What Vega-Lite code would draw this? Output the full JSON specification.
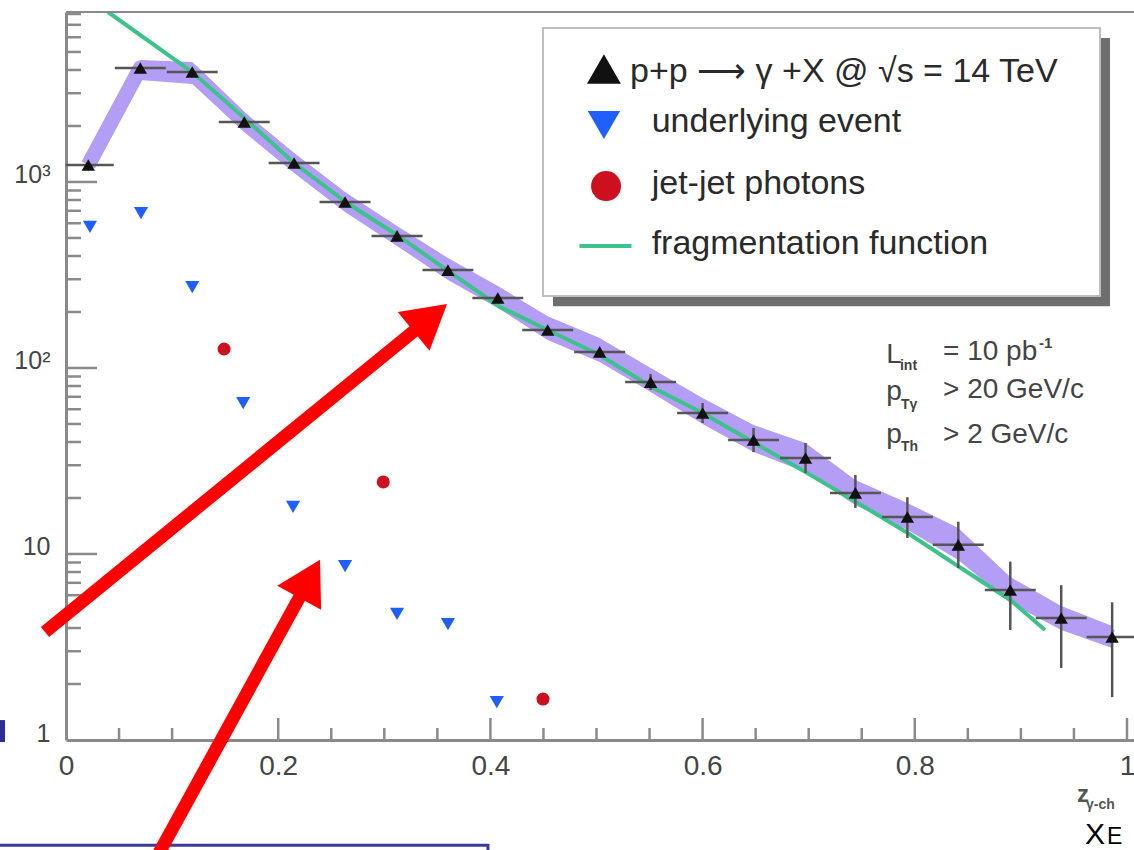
{
"$schema": "https://vega.github.io/schema/vega-lite/v6.json",
"width": 1068, "height": 728,
"autosize": "none",
"padding": {"left": 66, "top": 12, "right": 0, "bottom": 110},
"background": "white",
"view": {"stroke": null},
"config": {"font": "Liberation Sans"},
"data": {"values": [{}]},
"resolve": {"axis": {"x": "independent", "y": "independent"}},
"datasets": {
"pp": [
{"x":0.021,"y":1234,"blo":1132,"bhi":1346,"xlo":0.0,"xhi":0.045},
{"x":0.070,"y":4100,"blo":3535,"bhi":4529,"xlo":0.046,"xhi":0.094},
{"x":0.119,"y":3900,"blo":3365,"bhi":4418,"xlo":0.095,"xhi":0.143},
{"x":0.168,"y":2100,"blo":1857,"bhi":2379,"xlo":0.144,"xhi":0.192},
{"x":0.215,"y":1265,"blo":1117,"bhi":1432,"xlo":0.191,"xhi":0.239},
{"x":0.263,"y":780,"blo":690,"bhi":884,"xlo":0.239,"xhi":0.287},
{"x":0.312,"y":513,"blo":453,"bhi":580,"xlo":0.288,"xhi":0.336},
{"x":0.360,"y":336,"blo":297,"bhi":390,"xlo":0.336,"xhi":0.384},
{"x":0.407,"y":238,"blo":210,"bhi":276,"xlo":0.383,"xhi":0.431},
{"x":0.454,"y":160,"blo":141.5,"bhi":190,"xlo":0.430,"xhi":0.478},
{"x":0.503,"y":122,"blo":107.7,"bhi":145,"xlo":0.479,"xhi":0.527},
{"x":0.551,"y":84,"blo":74.3,"bhi":100,"lo":76.2,"hi":92.9,"xlo":0.527,"xhi":0.575},
{"x":0.600,"y":57.3,"blo":50,"bhi":69,"lo":50.6,"hi":64.8,"xlo":0.576,"xhi":0.624},
{"x":0.648,"y":41,"blo":35.3,"bhi":49.4,"lo":35.3,"hi":47.6,"xlo":0.624,"xhi":0.672},
{"x":0.697,"y":32.8,"blo":27.6,"bhi":39.5,"lo":27.3,"hi":39.5,"xlo":0.673,"xhi":0.721},
{"x":0.744,"y":21.3,"blo":18.3,"bhi":25,"lo":17.7,"hi":26.6,"xlo":0.720,"xhi":0.768},
{"x":0.793,"y":15.8,"blo":13.5,"bhi":18.8,"lo":12.2,"hi":20.2,"xlo":0.769,"xhi":0.817},
{"x":0.841,"y":11.2,"blo":9.29,"bhi":13.8,"lo":8.4,"hi":14.9,"xlo":0.817,"xhi":0.865},
{"x":0.890,"y":6.4,"blo":5.45,"bhi":7.52,"lo":3.9,"hi":9.1,"xlo":0.866,"xhi":0.914},
{"x":0.938,"y":4.53,"blo":3.9,"bhi":5.25,"lo":2.44,"hi":6.8,"xlo":0.914,"xhi":0.962},
{"x":0.986,"y":3.58,"blo":3.12,"bhi":4.1,"lo":1.7,"hi":5.5,"xlo":0.962,"xhi":1.01}
],
"ue": [
{"x":0.0226,"y":573},{"x":0.0707,"y":681},{"x":0.119,"y":272},{"x":0.167,"y":64.8},{"x":0.214,"y":17.9},{"x":0.263,"y":8.6},{"x":0.312,"y":4.76},{"x":0.360,"y":4.2},{"x":0.406,"y":1.6}
],
"jj": [
{"x":0.149,"y":126.5},{"x":0.299,"y":24.4},{"x":0.4496,"y":1.66}
],
"ff": [
{"x":0.0396,"y":8200},{"x":0.119,"y":3900},{"x":0.168,"y":2208},{"x":0.215,"y":1265},{"x":0.265,"y":771},{"x":0.312,"y":519},{"x":0.359,"y":336},{"x":0.409,"y":213},{"x":0.456,"y":158},{"x":0.503,"y":117.5},{"x":0.552,"y":79},{"x":0.600,"y":57.3},{"x":0.649,"y":39.5},{"x":0.697,"y":27.6},{"x":0.745,"y":19.0},{"x":0.793,"y":13.0},{"x":0.842,"y":8.51},{"x":0.890,"y":5.66},{"x":0.9227,"y":3.9}
],
"yminor": [{"v":2},{"v":3},{"v":4},{"v":5},{"v":6},{"v":7},{"v":8},{"v":9},{"v":20},{"v":30},{"v":40},{"v":50},{"v":60},{"v":70},{"v":80},{"v":90},{"v":200},{"v":300},{"v":400},{"v":500},{"v":600},{"v":700},{"v":800},{"v":900},{"v":2000},{"v":3000},{"v":4000},{"v":5000},{"v":6000},{"v":7000},{"v":8000}],
"ymajor": [{"v":10},{"v":100},{"v":1000}],
"xminor": [{"v":0.05},{"v":0.1},{"v":0.15},{"v":0.25},{"v":0.3},{"v":0.35},{"v":0.45},{"v":0.5},{"v":0.55},{"v":0.65},{"v":0.7},{"v":0.75},{"v":0.85},{"v":0.9},{"v":0.95}],
"xmajor": [{"v":0.2},{"v":0.4},{"v":0.6},{"v":0.8},{"v":1.0}]
},
"layer": [
{"data": {"name": "pp"},
 "mark": {"type": "area", "color": "#b49df4", "opacity": 1},
 "encoding": {
  "x": {"field": "x", "type": "quantitative", "scale": {"domain": [0, 1.0066], "nice": false, "zero": false},
        "axis": {"values": [0,0.2,0.4,0.6,0.8,1], "labelExpr": "datum.value==0?'0':datum.value==1?'1':format(datum.value,'.1f')", "ticks": false, "grid": false, "domainColor": "#8a8a8a", "domainWidth": 3, "labelFontSize": 28, "labelColor": "#454545", "labelPadding": 12, "labelFlush": false, "title": null}},
  "y": {"field": "blo", "type": "quantitative", "scale": {"type": "log", "domain": [1, 8200], "nice": false},
        "axis": {"values": [1,10,100,1000], "labelExpr": "datum.value==1?'1':datum.value==10?'10':datum.value==100?'10²':'10³'", "ticks": false, "grid": false, "domainColor": "#8a8a8a", "domainWidth": 3, "labelFontSize": 25, "labelColor": "#454545", "labelPadding": 16, "labelOffset": -7, "title": null}},
  "y2": {"field": "bhi"}
 }},
{"data": {"name": "pp"},
 "mark": {"type": "line", "color": "#b49df4", "strokeWidth": 15, "strokeJoin": "round"},
 "encoding": {"x": {"field": "x", "type": "quantitative", "axis": null}, "y": {"field": "y", "type": "quantitative", "scale": {"type": "log"}, "axis": null}}},
{"data": {"name": "ff"},
 "mark": {"type": "line", "color": "#3ec28c", "strokeWidth": 4, "clip": true},
 "encoding": {"x": {"field": "x", "type": "quantitative", "axis": null}, "y": {"field": "y", "type": "quantitative", "scale": {"type": "log"}, "axis": null}}},
{"data": {"name": "pp"},
 "mark": {"type": "rule", "color": "#555555", "strokeWidth": 2.5, "clip": true},
 "encoding": {"x": {"field": "xlo", "type": "quantitative", "axis": null}, "x2": {"field": "xhi"}, "y": {"field": "y", "type": "quantitative", "scale": {"type": "log"}, "axis": null}}},
{"data": {"name": "pp"},
 "transform": [{"filter": "isValid(datum.lo)"}],
 "mark": {"type": "rule", "color": "#555555", "strokeWidth": 2.5},
 "encoding": {"x": {"field": "x", "type": "quantitative", "axis": null}, "y": {"field": "lo", "type": "quantitative", "scale": {"type": "log"}, "axis": null}, "y2": {"field": "hi"}}},
{"data": {"name": "pp"},
 "mark": {"type": "point", "shape": "triangle-up", "filled": true, "size": 180, "color": "#111111", "opacity": 1},
 "encoding": {"x": {"field": "x", "type": "quantitative", "axis": null}, "y": {"field": "y", "type": "quantitative", "scale": {"type": "log"}, "axis": null}}},
{"data": {"name": "ue"},
 "mark": {"type": "point", "shape": "triangle-down", "filled": true, "size": 200, "color": "#1f5fff", "opacity": 1},
 "encoding": {"x": {"field": "x", "type": "quantitative", "axis": null}, "y": {"field": "y", "type": "quantitative", "scale": {"type": "log"}, "axis": null}}},
{"data": {"name": "jj"},
 "mark": {"type": "point", "shape": "circle", "filled": true, "size": 170, "color": "#cc1020", "opacity": 1},
 "encoding": {"x": {"field": "x", "type": "quantitative", "axis": null}, "y": {"field": "y", "type": "quantitative", "scale": {"type": "log"}, "axis": null}}},
{"data": {"name": "yminor"},
 "mark": {"type": "rule", "color": "#8a8a8a", "strokeWidth": 2.5},
 "encoding": {"x": {"datum": 0, "type": "quantitative", "axis": null}, "x2": {"datum": 0.0141}, "y": {"field": "v", "type": "quantitative", "scale": {"type": "log"}, "axis": null}}},
{"data": {"name": "ymajor"},
 "mark": {"type": "rule", "color": "#8a8a8a", "strokeWidth": 2.5},
 "encoding": {"x": {"datum": 0, "type": "quantitative", "axis": null}, "x2": {"datum": 0.0292}, "y": {"field": "v", "type": "quantitative", "scale": {"type": "log"}, "axis": null}}},
{"data": {"name": "xminor"},
 "mark": {"type": "rule", "color": "#8a8a8a", "strokeWidth": 2.5},
 "encoding": {"x": {"field": "v", "type": "quantitative", "axis": null}, "y": {"datum": 1, "type": "quantitative", "scale": {"type": "log"}, "axis": null}, "y2": {"datum": 1.16}}},
{"data": {"name": "xmajor"},
 "mark": {"type": "rule", "color": "#8a8a8a", "strokeWidth": 2.5},
 "encoding": {"x": {"field": "v", "type": "quantitative", "axis": null}, "y": {"datum": 1, "type": "quantitative", "scale": {"type": "log"}, "axis": null}, "y2": {"datum": 1.313}}},
{"mark": {"type": "rule", "color": "#8a8a8a", "strokeWidth": 2},
 "encoding": {"x": {"datum": 0, "type": "quantitative", "axis": null}, "x2": {"datum": 1.0066}, "y": {"datum": 8200, "type": "quantitative", "scale": {"type": "log"}, "axis": null}}},
{"mark": {"type": "rect", "color": "#6e6e6e"},
 "encoding": {"x": {"datum": 0.459, "type": "quantitative", "axis": null}, "x2": {"datum": 0.984}, "y": {"datum": 5945, "type": "quantitative", "scale": {"type": "log"}, "axis": null}, "y2": {"datum": 215}}},
{"mark": {"type": "rect", "fill": "white", "stroke": "#bdbdbd", "strokeWidth": 2},
 "encoding": {"x": {"datum": 0.4496, "type": "quantitative", "axis": null}, "x2": {"datum": 0.9746}, "y": {"datum": 6730, "type": "quantitative", "scale": {"type": "log"}, "axis": null}, "y2": {"datum": 244}}},
{"mark": {"type": "point", "shape": "triangle-up", "filled": true, "size": 1150, "color": "#111111", "opacity": 1},
 "encoding": {"x": {"datum": 0.507, "type": "quantitative", "axis": null}, "y": {"datum": 4050, "type": "quantitative", "scale": {"type": "log"}, "axis": null}}},
{"mark": {"type": "text", "text": "p+p ⟶ γ +X @ √s = 14 TeV", "align": "left", "baseline": "middle", "fontSize": 34, "color": "#2a2a2a"},
 "encoding": {"x": {"datum": 0.5316, "type": "quantitative", "axis": null}, "y": {"datum": 3904, "type": "quantitative", "scale": {"type": "log"}, "axis": null}}},
{"mark": {"type": "point", "shape": "triangle-down", "filled": true, "size": 1050, "color": "#1f5fff", "opacity": 1},
 "encoding": {"x": {"datum": 0.507, "type": "quantitative", "axis": null}, "y": {"datum": 2025, "type": "quantitative", "scale": {"type": "log"}, "axis": null}}},
{"mark": {"type": "text", "text": "underlying event", "align": "left", "baseline": "middle", "fontSize": 34, "color": "#2a2a2a"},
 "encoding": {"x": {"datum": 0.552, "type": "quantitative", "axis": null}, "y": {"datum": 2103, "type": "quantitative", "scale": {"type": "log"}, "axis": null}}},
{"mark": {"type": "point", "shape": "circle", "filled": true, "size": 900, "color": "#cc1020", "opacity": 1},
 "encoding": {"x": {"datum": 0.509, "type": "quantitative", "axis": null}, "y": {"datum": 951, "type": "quantitative", "scale": {"type": "log"}, "axis": null}}},
{"mark": {"type": "text", "text": "jet-jet photons", "align": "left", "baseline": "middle", "fontSize": 34, "color": "#2a2a2a"},
 "encoding": {"x": {"datum": 0.552, "type": "quantitative", "axis": null}, "y": {"datum": 975, "type": "quantitative", "scale": {"type": "log"}, "axis": null}}},
{"mark": {"type": "rule", "color": "#3ec28c", "strokeWidth": 4},
 "encoding": {"x": {"datum": 0.484, "type": "quantitative", "axis": null}, "x2": {"datum": 0.533}, "y": {"datum": 453, "type": "quantitative", "scale": {"type": "log"}, "axis": null}}},
{"mark": {"type": "text", "text": "fragmentation function", "align": "left", "baseline": "middle", "fontSize": 34, "color": "#2a2a2a"},
 "encoding": {"x": {"datum": 0.552, "type": "quantitative", "axis": null}, "y": {"datum": 464, "type": "quantitative", "scale": {"type": "log"}, "axis": null}}},
{"mark": {"type": "text", "text": "L", "align": "left", "baseline": "middle", "fontSize": 28, "color": "#444444"},
 "encoding": {"x": {"datum": 0.773, "type": "quantitative", "axis": null}, "y": {"datum": 117.5, "type": "quantitative", "scale": {"type": "log"}, "axis": null}}},
{"mark": {"type": "text", "text": "int", "align": "left", "baseline": "middle", "fontSize": 14, "fontWeight": "bold", "color": "#444444"},
 "encoding": {"x": {"datum": 0.786, "type": "quantitative", "axis": null}, "y": {"datum": 102.5, "type": "quantitative", "scale": {"type": "log"}, "axis": null}}},
{"mark": {"type": "text", "text": "= 10 pb", "align": "left", "baseline": "middle", "fontSize": 28, "color": "#444444"},
 "encoding": {"x": {"datum": 0.8266, "type": "quantitative", "axis": null}, "y": {"datum": 122, "type": "quantitative", "scale": {"type": "log"}, "axis": null}}},
{"mark": {"type": "text", "text": "-1", "align": "left", "baseline": "middle", "fontSize": 15, "fontWeight": "bold", "color": "#444444"},
 "encoding": {"x": {"datum": 0.917, "type": "quantitative", "axis": null}, "y": {"datum": 136, "type": "quantitative", "scale": {"type": "log"}, "axis": null}}},
{"mark": {"type": "text", "text": "p", "align": "left", "baseline": "middle", "fontSize": 28, "color": "#444444"},
 "encoding": {"x": {"datum": 0.773, "type": "quantitative", "axis": null}, "y": {"datum": 74.3, "type": "quantitative", "scale": {"type": "log"}, "axis": null}}},
{"mark": {"type": "text", "text": "Tγ", "align": "left", "baseline": "middle", "fontSize": 14, "fontWeight": "bold", "color": "#444444"},
 "encoding": {"x": {"datum": 0.787, "type": "quantitative", "axis": null}, "y": {"datum": 63, "type": "quantitative", "scale": {"type": "log"}, "axis": null}}},
{"mark": {"type": "text", "text": "> 20 GeV/c", "align": "left", "baseline": "middle", "fontSize": 28, "color": "#444444"},
 "encoding": {"x": {"datum": 0.8266, "type": "quantitative", "axis": null}, "y": {"datum": 76.2, "type": "quantitative", "scale": {"type": "log"}, "axis": null}}},
{"mark": {"type": "text", "text": "p", "align": "left", "baseline": "middle", "fontSize": 28, "color": "#444444"},
 "encoding": {"x": {"datum": 0.773, "type": "quantitative", "axis": null}, "y": {"datum": 43.5, "type": "quantitative", "scale": {"type": "log"}, "axis": null}}},
{"mark": {"type": "text", "text": "Th", "align": "left", "baseline": "middle", "fontSize": 14, "fontWeight": "bold", "color": "#444444"},
 "encoding": {"x": {"datum": 0.787, "type": "quantitative", "axis": null}, "y": {"datum": 37.7, "type": "quantitative", "scale": {"type": "log"}, "axis": null}}},
{"mark": {"type": "text", "text": ">   2 GeV/c", "align": "left", "baseline": "middle", "fontSize": 28, "color": "#444444"},
 "encoding": {"x": {"datum": 0.8266, "type": "quantitative", "axis": null}, "y": {"datum": 43.5, "type": "quantitative", "scale": {"type": "log"}, "axis": null}}},
{"mark": {"type": "text", "text": "z", "align": "left", "baseline": "middle", "fontSize": 24, "fontWeight": "bold", "color": "#555555"},
 "encoding": {"x": {"datum": 0.9529, "type": "quantitative", "axis": null}, "y": {"datum": 0.506, "type": "quantitative", "scale": {"type": "log"}, "axis": null}}},
{"mark": {"type": "text", "text": "γ-ch", "align": "left", "baseline": "middle", "fontSize": 14, "fontWeight": "bold", "color": "#555555"},
 "encoding": {"x": {"datum": 0.9614, "type": "quantitative", "axis": null}, "y": {"datum": 0.445, "type": "quantitative", "scale": {"type": "log"}, "axis": null}}},
{"mark": {"type": "text", "text": "X", "align": "center", "baseline": "alphabetic", "fontSize": 30, "color": "#000000"},
 "encoding": {"x": {"datum": 0.9698, "type": "quantitative", "axis": null}, "y": {"datum": 0.276, "type": "quantitative", "scale": {"type": "log"}, "axis": null}}},
{"mark": {"type": "text", "text": "E", "align": "left", "baseline": "alphabetic", "fontSize": 23, "color": "#000000"},
 "encoding": {"x": {"datum": 0.9812, "type": "quantitative", "axis": null}, "y": {"datum": 0.276, "type": "quantitative", "scale": {"type": "log"}, "axis": null}}},
{"mark": {"type": "rect", "fill": null, "stroke": "#3b3b9e", "strokeWidth": 3, "clip": false},
 "encoding": {"x": {"datum": -0.07, "type": "quantitative", "axis": null}, "x2": {"datum": 0.3977}, "y": {"datum": 0.272, "type": "quantitative", "scale": {"type": "log"}, "axis": null}, "y2": {"datum": 0.05}}},
{"mark": {"type": "rect", "color": "#2d2d9a"},
 "encoding": {"x": {"datum": -0.0622, "type": "quantitative", "axis": null}, "x2": {"datum": -0.0575}, "y": {"datum": 1.28, "type": "quantitative", "scale": {"type": "log"}, "axis": null}, "y2": {"datum": 0.975}}},
{"mark": {"type": "rule", "color": "#ff0000", "strokeWidth": 13},
 "encoding": {"x": {"datum": -0.0198, "type": "quantitative", "axis": null}, "x2": {"datum": 0.3434}, "y": {"datum": 3.81, "type": "quantitative", "scale": {"type": "log"}, "axis": null}, "y2": {"datum": 186.4}}},
{"mark": {"type": "point", "shape": "triangle-up", "filled": true, "size": 2500, "color": "#ff0000", "opacity": 1, "angle": 50.6},
 "encoding": {"x": {"datum": 0.3434, "type": "quantitative", "axis": null}, "y": {"datum": 186.4, "type": "quantitative", "scale": {"type": "log"}, "axis": null}}},
{"mark": {"type": "rule", "color": "#ff0000", "strokeWidth": 13},
 "encoding": {"x": {"datum": 0.0867, "type": "quantitative", "axis": null}, "x2": {"datum": 0.2296}, "y": {"datum": 0.241, "type": "quantitative", "scale": {"type": "log"}, "axis": null}, "y2": {"datum": 7.35}}},
{"mark": {"type": "point", "shape": "triangle-up", "filled": true, "size": 2500, "color": "#ff0000", "opacity": 1, "angle": 28.7},
 "encoding": {"x": {"datum": 0.2296, "type": "quantitative", "axis": null}, "y": {"datum": 7.35, "type": "quantitative", "scale": {"type": "log"}, "axis": null}}}
]
}
